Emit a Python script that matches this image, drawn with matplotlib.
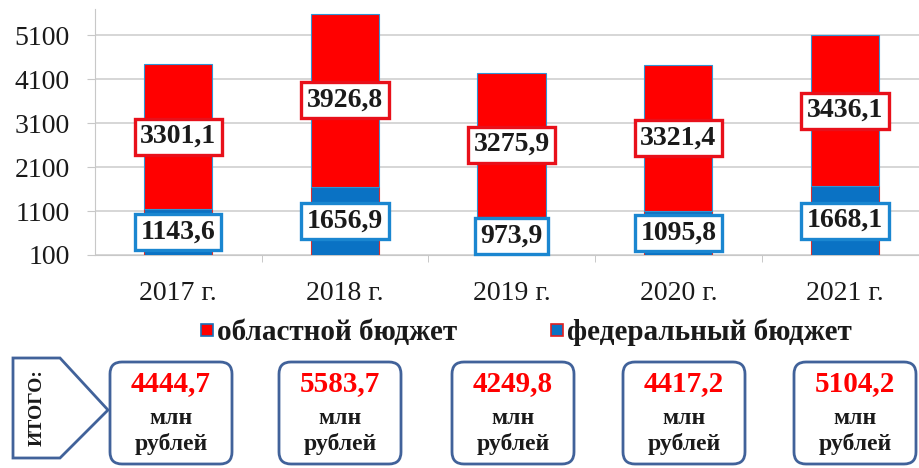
import matplotlib
matplotlib.use("Agg")
import matplotlib.pyplot as plt
from matplotlib.lines import Line2D
from matplotlib.patches import Polygon, FancyBboxPatch

# data
years = ["2017 г.", "2018 г.", "2019 г.", "2020 г.", "2021 г."]
federal = [1143.6, 1656.9, 973.9, 1095.8, 1668.1]
regional = [3301.1, 3926.8, 3275.9, 3321.4, 3436.1]
totals = ["4444,7", "5583,7", "4249,8", "4417,2", "5104,2"]
yticks = [100, 1100, 2100, 3100, 4100, 5100]

RED = "#ff0000"
BLUE = "#0a72c4"
FRAME = "#41629a"
TXT = "#1a1a1a"
SERIF = "Liberation Serif"

plt.rcParams["font.family"] = [SERIF, "DejaVu Serif"]

fig = plt.figure(figsize=(9.2, 4.68), dpi=100)
ax = fig.add_axes([95 / 920, 1 - 255 / 468, 1 - 95 / 920, (255 - 9) / 468])

x = list(range(len(years)))
ax.bar(x, federal, width=0.41, color=BLUE, edgecolor="#d83030", linewidth=0.8, zorder=3)
ax.bar(x, regional, bottom=federal, width=0.41, color=RED, edgecolor="#2f95d6",
       linewidth=0.8, zorder=3)

ymin = 100
ax.set_ylim(ymin, 5700)
ax.set_xlim(-0.5, 4.45)

# value labels in boxes
for i in x:
    f = federal[i]
    r = regional[i]
    ax.text(i, (ymin + f) / 2, f"{f:.1f}".replace(".", ","), ha="center", va="center",
            fontsize=20, fontweight="bold", color=TXT, zorder=5,
            bbox=dict(boxstyle="square,pad=0.2", fc="white", ec="#1a86d0", lw=2.4))
    ax.text(i, f + r / 2, f"{r:.1f}".replace(".", ","), ha="center", va="center",
            fontsize=20, fontweight="bold", color=TXT, zorder=5,
            bbox=dict(boxstyle="square,pad=0.2", fc="white", ec="#e8101a", lw=2.4))

ax.set_yticks(yticks)
ax.set_yticklabels([str(v) for v in yticks], fontsize=20, color=TXT)
ax.set_xticks(x)
ax.set_xticklabels(years, fontsize=20, color=TXT)
ax.set_xticks([i + 0.5 for i in x[:-1]], minor=True)
ax.tick_params(axis="x", which="major", length=0, pad=19)
ax.tick_params(axis="x", which="minor", length=5, color="#bfbfbf")
ax.tick_params(axis="y", length=6, color="#c8c8c8", pad=12)

ax.grid(axis="y", color="#d0d0d0", linewidth=1.2, zorder=0)
ax.set_axisbelow(True)
for side in ["top", "right"]:
    ax.spines[side].set_visible(False)
ax.spines["left"].set_color("#c8c8c8")
ax.spines["bottom"].set_color("#c8c8c8")

# legend
handles = [
    Line2D([], [], marker="s", linestyle="none", markersize=9, markerfacecolor=RED,
           markeredgecolor="#1a6fb8", markeredgewidth=1.2, label="областной бюджет"),
    Line2D([], [], marker="s", linestyle="none", markersize=9, markerfacecolor=BLUE,
           markeredgecolor="#e02020", markeredgewidth=1.2, label="федеральный бюджет"),
]
fig.legend(handles=handles, loc="center", bbox_to_anchor=(0.572, 1 - 332 / 468), ncol=2,
           frameon=False, prop={"family": SERIF, "weight": "bold", "size": 21},
           handlelength=0.45, handletextpad=0.12, columnspacing=3.2,
           labelcolor=TXT)

# bottom totals row
ov = fig.add_axes([0, 0, 1, 1])
ov.set_xlim(0, 920)
ov.set_ylim(468, 0)
ov.axis("off")

arrow = Polygon([(13, 358), (60, 358), (108, 410), (60, 458), (13, 458)], closed=True,
                fc="white", ec=FRAME, lw=2)
ov.add_patch(arrow)
ov.text(37, 408, "ИТОГО:", rotation=90, ha="center", va="center", fontsize=14,
        fontweight="bold", color=TXT)

box_left = [110, 279, 452, 623, 794]
for bx, t in zip(box_left, totals):
    ov.add_patch(FancyBboxPatch((bx, 362), 122, 102,
                                boxstyle="round,pad=0,rounding_size=12",
                                fc="white", ec=FRAME, lw=2))
    cx = bx + 61
    ov.text(cx, 384, t, ha="center", va="center", fontsize=21, fontweight="bold", color=RED)
    ov.text(cx, 419, "млн", ha="center", va="center", fontsize=17, fontweight="bold",
            color=TXT)
    ov.text(cx, 444, "рублей", ha="center", va="center", fontsize=17, fontweight="bold",
            color=TXT)

fig.savefig("out.png", dpi=100)
